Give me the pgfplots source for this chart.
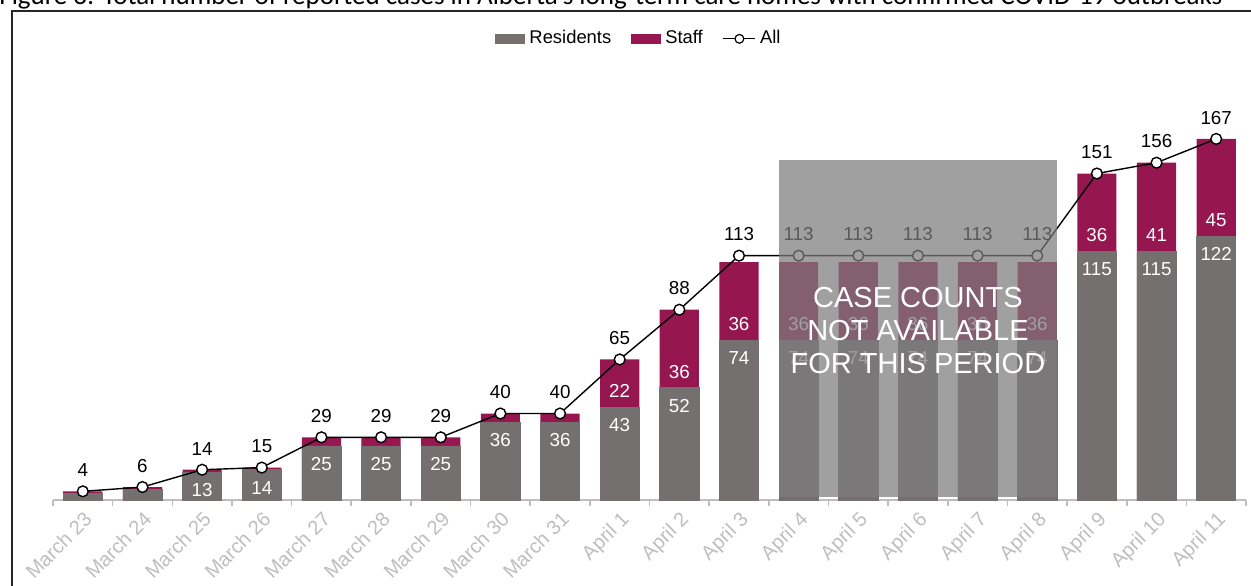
\documentclass[border=0pt]{standalone}
\usepackage{fontspec}
\setmainfont{Liberation Sans}
\newfontfamily\titlefont{Carlito}
\usepackage{pgfplots}
\pgfplotsset{compat=1.18}
\usepackage{pgfplotstable}
\definecolor{resid}{RGB}{117,112,112}
\definecolor{staff}{RGB}{150,22,80}
\definecolor{tickgray}{RGB}{190,190,190}
\definecolor{boxgray}{RGB}{124,124,124}

\pgfplotstableread{
x R S A
0 3 1 4
1 5 1 6
2 13 1 14
3 14 1 15
4 25 4 29
5 25 4 29
6 25 4 29
7 36 4 40
8 36 4 40
9 43 22 65
10 52 36 88
11 74 36 113
12 74 36 113
13 74 36 113
14 74 36 113
15 74 36 113
16 74 36 113
17 115 36 151
18 115 41 156
19 122 45 167
}\data

\begin{document}
\begin{tikzpicture}
\begin{axis}[
  set layers=standard,
  at={(0,0)}, anchor=south west,
  scale only axis, width=596.5pt, height=194.6pt,
  xmin=-0.5, xmax=19.5, ymin=0, ymax=180,
  /pgf/number format/assume math mode=true,
  axis y line=none, axis x line*=bottom,
  x axis line style={draw=tickgray, line width=0.8pt, -},
  xtick={0,...,19},
  xticklabels={March 23,March 24,March 25,March 26,March 27,March 28,March 29,March 30,March 31,April 1,April 2,April 3,April 4,April 5,April 6,April 7,April 8,April 9,April 10,April 11},
  major x tick style={draw=none},
  minor xtick={-0.5,0.5,...,19.5},
  minor x tick style={draw=tickgray, line width=0.8pt},
  minor tick length=3pt,
  xtick align=outside,
  xticklabel style={font=\fontsize{10}{12}\selectfont, text=tickgray, yshift=-0.8pt, rotate=45, anchor=north east, inner sep=0pt},
  clip=false,
  legend style={at={(0.492,1.185)}, anchor=center, draw=none, fill=none,
    font=\fontsize{9.2}{11}\selectfont,
    /tikz/every even column/.append style={column sep=8pt}},
  legend columns=-1,
  legend cell align=left,
]
\addlegendimage{fill=resid, draw=none, legend image code/.code={\fill[resid] (0pt,-2.5pt) rectangle (15pt,2.5pt);}}
\addlegendimage{fill=staff, draw=none, legend image code/.code={\fill[staff] (0pt,-2.5pt) rectangle (15pt,2.5pt);}}
\addlegendimage{legend image code/.code={\draw[black, line width=0.6pt] (0pt,0pt) -- (16pt,0pt); \filldraw[black, fill=white, line width=0.6pt] (8pt,0pt) circle (2.2pt);}}
\legend{Residents,Staff,All}

\addplot[ybar, bar width=19.6pt, bar shift=0pt, fill=staff, draw=none, forget plot]
  table[x=x, y expr=\thisrow{R}+\thisrow{S}] {\data};
\addplot[ybar, bar width=19.6pt, bar shift=0pt, fill=resid, draw=resid, line width=0.3pt, forget plot]
  table[x=x, y=R] {\data};

\addplot[draw=none, mark=none, forget plot, restrict x to domain=2:19,
  nodes near coords, point meta=explicit,
  nodes near coords style={text=white, font=\fontsize{9.4}{11}\selectfont, anchor=center, yshift=-9pt}]
  table[x=x, y=R, meta=R] {\data};
\addplot[draw=none, mark=none, forget plot, restrict x to domain=9:19,
  nodes near coords, point meta=explicit,
  nodes near coords style={text=white, font=\fontsize{9.4}{11}\selectfont, anchor=center, yshift=8pt}]
  table[x=x, y=R, meta=S] {\data};

\addplot[black, line width=0.7pt, mark=*, mark size=2.7pt,
  mark options={fill=white, draw=black, line width=0.7pt}, forget plot,
  nodes near coords, point meta=explicit,
  nodes near coords style={text=black, font=\fontsize{9.4}{11}\selectfont, anchor=south, inner sep=0pt, yshift=7pt}]
  table[x=x, y=A, meta=A] {\data};

\begin{pgfonlayer}{axis foreground}
\fill[boxgray, opacity=0.72] (axis cs:11.665,1.3) rectangle (axis cs:16.335,157.3);
\node[text=white, font=\fontsize{14.5}{16.5}\selectfont, align=center] at (axis cs:14,78.4) {CASE COUNTS\\NOT AVAILABLE\\FOR THIS PERIOD};
\end{pgfonlayer}
\end{axis}
\draw[line width=1pt, black!85] (-20.25pt,-60pt) -- (-20.25pt,244.5pt) -- (615pt,244.5pt);
\node[anchor=base west, inner sep=0pt, font=\titlefont\fontsize{13.5}{15}\selectfont] at (-27pt,247.5pt) {Figure 3: Total number of reported cases in Alberta’s long-term care homes with confirmed COVID-19 outbreaks};
\pgfresetboundingbox
\useasboundingbox (-26.5pt,-42.5pt) rectangle (599pt,250pt);
\end{tikzpicture}
\end{document}
